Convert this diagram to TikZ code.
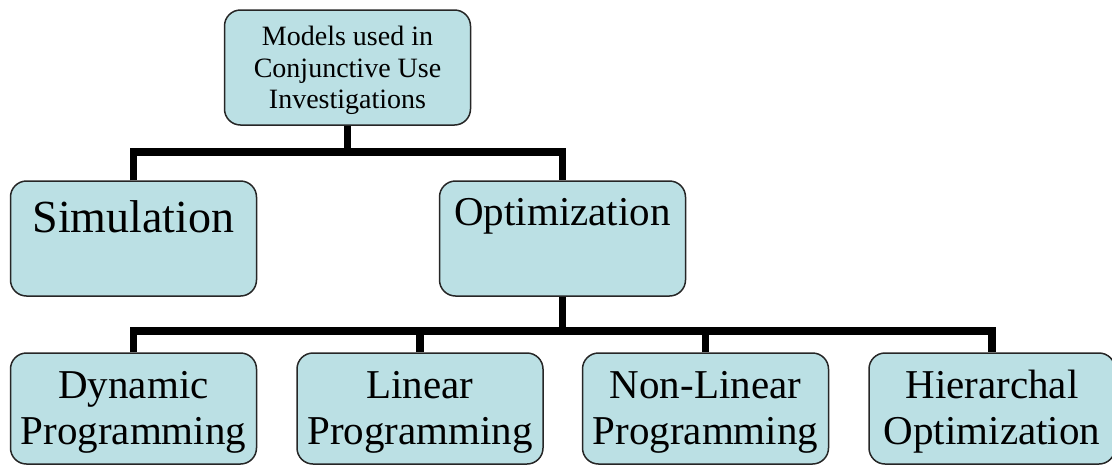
\documentclass[tikz,border=0pt]{standalone}
\usepackage{fontspec}
\setmainfont{Liberation Serif}
\begin{document}
\begin{tikzpicture}[x=1pt,y=-1pt,
  box/.style={draw=black!85, line width=1.5pt, fill=boxfill, rounded corners=16pt,
    minimum width=246pt, minimum height=#1, inner sep=0pt},
  box/.default=115pt,
  conn/.style={line width=7.5pt, line join=miter},
  big/.style={inner sep=0pt, font=\fontsize{46pt}{52pt}\selectfont},
  mid/.style={inner sep=0pt, font=\fontsize{41pt}{47pt}\selectfont},
  small/.style={inner sep=0pt, font=\fontsize{28pt}{31pt}\selectfont}]
\definecolor{boxfill}{RGB}{187,224,228}
\useasboundingbox (0,0) rectangle (1112,464);

% boxes
\node[box] (top) at (347.5,67.5) {};
\node[box] (sim) at (133.5,238.5) {};
\node[box] (opt) at (562.5,238.5) {};
\node[box=111pt] (dyn) at (133.5,408.5) {};
\node[box=111pt] (lin) at (420,408.5) {};
\node[box=111pt] (nlp) at (705.5,408.5) {};
\node[box=111pt] (hie) at (992,408.5) {};

% junction levels of the connector bars
\coordinate (bar1) at (348,152);
\coordinate (bar2) at (563,331);

% connectors
\draw[conn] (top.south) -- (top.south |- bar1);
\draw[conn] (sim.north) -- (sim.north |- bar1) -- (opt.north |- bar1) -- (opt.north);
\draw[conn] (opt.south) -- (opt.south |- bar2);
\draw[conn] (dyn.north) -- (dyn.north |- bar2) -- (hie.north |- bar2) -- (hie.north);
\draw[conn] (lin.north) -- (lin.north |- bar2);
\draw[conn] (nlp.north) -- (nlp.north |- bar2);

% labels
\node[small, anchor=base] (t1) at (top.center |- 0,45.5) {Models used in};
\node[small, anchor=base] (t2) at (top.center |- 0,77) {Conjunctive Use};
\node[small, anchor=base] (t3) at (top.center |- 0,108) {Investigations};

\node[big, anchor=base] (s1) at (sim.center |- 0,232) {Simulation};
\node[mid, anchor=base] (o1) at (opt.center |- 0,225) {Optimization};

\node[mid, anchor=base] (d1) at (dyn.center |- 0,398) {Dynamic};
\node[mid, anchor=base] (d2) at (dyn.center |- 0,444) {Programming};
\node[mid, anchor=base] (l1) at (lin.center |- 0,398) {Linear};
\node[mid, anchor=base] (l2) at (lin.center |- 0,444) {Programming};
\node[mid, anchor=base] (n1) at (nlp.center |- 0,398) {Non-Linear};
\node[mid, anchor=base] (n2) at (nlp.center |- 0,444) {Programming};
\node[mid, anchor=base] (h1) at (hie.center |- 0,398) {Hierarchal};
\node[mid, anchor=base] (h2) at (hie.center |- 0,444) {Optimization};
\end{tikzpicture}
\end{document}
